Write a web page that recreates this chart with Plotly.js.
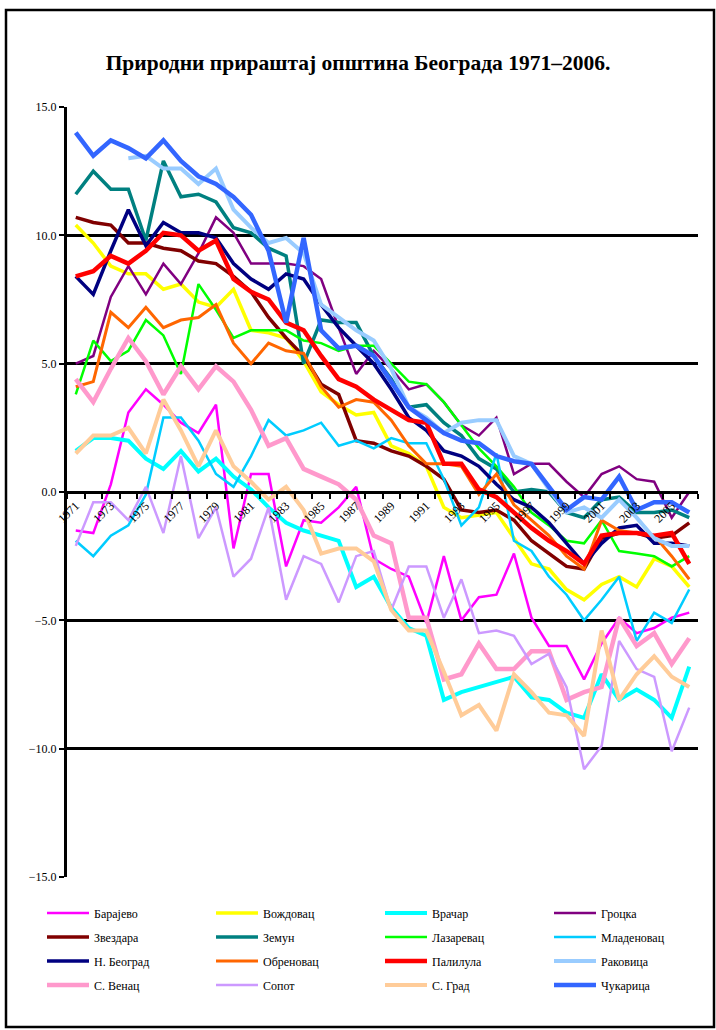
<!DOCTYPE html>
<html>
<head>
<meta charset="utf-8">
<script src="https://cdn.plot.ly/plotly-3.0.1.min.js"></script>
<style>
html,body{margin:0;padding:0;background:#fff;}
#chart{width:716px;height:1030px;}
</style>
</head>
<body>
<div id="chart"></div>
<script>
const years = [1971,1972,1973,1974,1975,1976,1977,1978,1979,1980,1981,1982,1983,1984,1985,1986,1987,1988,1989,1990,1991,1992,1993,1994,1995,1996,1997,1998,1999,2000,2001,2002,2003,2004,2005,2006];
const tickYears = [1971,1973,1975,1977,1979,1981,1983,1985,1987,1989,1991,1993,1995,1997,1999,2001,2003,2005];
const tickLabels = ["1971","1973","1975","1977","1979","1981","1983","1985","1987","1989","1991","1993","1995","1997","1999","2001","2003","2005"];

const barajevo   = [-1.5,-1.6,0.3,3.1,4.0,3.4,2.7,2.3,3.4,-2.2,0.7,0.7,-2.9,-1.1,-1.2,-0.6,0.2,-2.6,-3.0,-3.3,-5.1,-2.5,-5.0,-4.1,-4.0,-2.4,-4.9,-6.0,-6.0,-7.3,-5.9,-4.9,-5.5,-5.3,-4.9,-4.7];
const vozdovac   = [10.4,9.7,8.8,8.5,8.5,7.9,8.1,7.4,7.2,7.9,6.3,6.2,6.0,5.1,3.9,3.4,3.0,3.1,1.8,1.5,1.0,-0.6,-1.0,-0.9,-0.8,-1.8,-2.8,-3.0,-3.8,-4.2,-3.6,-3.3,-3.7,-2.6,-2.9,-3.7];
const vracar     = [1.6,2.1,2.1,2.0,1.3,0.9,1.6,0.8,1.3,0.6,0.1,-0.6,-1.2,-1.5,-1.7,-1.9,-3.7,-3.3,-4.5,-5.3,-5.6,-8.1,-7.8,-7.6,-7.4,-7.2,-8.0,-8.1,-8.6,-8.8,-7.1,-8.1,-7.7,-8.1,-8.8,-6.8];
const grocka     = [5.0,5.3,7.6,8.8,7.7,8.9,8.1,9.3,10.7,10.1,8.9,8.9,8.9,8.8,8.3,6.4,4.6,5.5,4.8,4.0,4.2,3.5,2.6,2.2,2.9,0.7,1.1,1.1,0.4,-0.2,0.7,1.0,0.5,0.4,-1.0,0.0];
const zvezdara   = [10.7,10.5,10.4,9.7,9.7,9.5,9.4,9.0,8.9,8.4,7.8,6.8,6.0,5.3,4.2,3.8,2.0,1.9,1.6,1.4,1.0,0.5,-0.7,-0.8,-0.7,-1.1,-1.9,-2.4,-2.9,-3.0,-1.8,-1.6,-1.6,-1.8,-1.7,-1.2];
const zemun      = [11.6,12.5,11.8,11.8,9.8,12.9,11.5,11.6,11.3,10.3,10.1,9.5,9.2,5.0,6.7,6.6,6.6,5.3,4.4,3.3,3.4,2.7,2.2,1.3,0.9,0.0,0.1,0.0,-0.8,-1.0,-0.3,-0.2,-0.8,-0.8,-0.7,-1.0];
const lazarevac  = [3.8,5.9,5.1,5.5,6.7,6.1,4.6,8.1,7.1,6.0,6.3,6.3,6.3,5.9,5.8,5.5,5.7,5.7,5.0,4.3,4.2,3.5,2.6,1.7,1.0,0.2,-0.8,-1.3,-1.9,-2.0,-1.1,-2.3,-2.4,-2.5,-2.9,-2.5];
const mladenovac = [-1.9,-2.5,-1.7,-1.3,-0.1,2.9,2.9,2.0,0.7,0.2,1.4,2.8,2.2,2.4,2.7,1.8,2.0,1.7,2.1,1.9,1.9,0.5,-1.3,-0.6,1.5,-1.9,-2.3,-3.3,-4.0,-5.0,-4.2,-3.3,-5.8,-4.7,-5.1,-3.8];
const nbeograd   = [8.4,7.7,9.4,11.0,9.6,10.5,10.1,10.1,9.9,8.9,8.3,7.9,8.5,8.3,7.3,6.4,5.7,5.0,4.0,2.9,2.4,1.6,1.4,1.0,0.3,-0.3,-0.6,-1.2,-2.0,-2.8,-2.0,-1.4,-1.3,-2.0,-2.0,-2.1];
const obrenovac  = [4.1,4.3,7.0,6.4,7.2,6.4,6.7,6.8,7.3,5.8,5.0,5.8,5.5,5.4,4.1,3.3,3.6,3.5,2.8,1.8,1.1,1.1,1.0,-0.1,0.7,-0.5,-1.1,-1.7,-2.5,-3.0,-1.1,-1.5,-1.6,-1.7,-2.5,-3.4];
const palilula   = [8.4,8.6,9.2,8.9,9.4,10.1,10.0,9.4,9.8,8.3,7.8,7.5,6.6,6.3,5.3,4.4,4.1,3.6,3.2,2.8,2.7,1.1,1.1,0.1,-0.2,-0.8,-1.4,-1.9,-2.3,-2.8,-1.7,-1.6,-1.6,-1.7,-1.6,-2.8];
const rakovica   = [null,null,null,13.0,13.1,12.6,12.6,12.0,12.6,11.0,10.3,9.7,9.9,9.3,7.3,6.8,6.3,5.9,4.8,3.3,2.9,2.3,2.7,2.8,2.8,1.4,1.1,0.1,-0.8,-0.6,-1.0,-0.3,-1.0,-1.8,-2.1,-2.1];
const svenac     = [4.4,3.5,4.8,6.0,5.1,3.8,4.9,4.0,4.9,4.3,3.2,1.8,2.1,0.9,0.6,0.3,-0.3,-1.7,-2.0,-4.9,-4.9,-7.3,-7.1,-5.9,-6.9,-6.9,-6.2,-6.2,-8.1,-7.8,-7.6,-4.9,-6.0,-5.5,-6.7,-5.7];
const sopot      = [-2.1,-0.4,-0.4,-1.1,0.2,-1.6,1.4,-1.8,-0.6,-3.3,-2.6,-0.6,-4.2,-2.5,-2.8,-4.3,-2.5,-2.3,-4.6,-2.9,-2.9,-4.9,-3.4,-5.5,-5.4,-5.6,-6.7,-6.3,-7.6,-10.8,-9.9,-5.8,-6.9,-7.2,-10.1,-8.4];
const sgrad      = [1.5,2.2,2.2,2.5,1.5,3.6,2.4,1.0,2.4,1.0,0.4,-0.3,0.2,-0.7,-2.4,-2.2,-2.2,-2.7,-4.6,-5.4,-5.4,-7.0,-8.7,-8.3,-9.3,-7.1,-7.8,-8.6,-8.7,-9.5,-5.4,-8.1,-7.1,-6.4,-7.2,-7.6];
const cukarica   = [14.0,13.1,13.7,13.4,13.0,13.7,12.9,12.3,12.0,11.5,10.8,9.4,6.6,9.9,6.3,5.6,5.7,5.3,4.3,3.3,2.8,2.3,2.0,1.9,1.4,1.2,1.1,0.2,-0.7,-0.2,-0.3,0.6,-0.7,-0.4,-0.4,-0.8];

const seriesNames = ["Барајево","Вождовац","Врачар","Гроцка","Звездара","Земун","Лазаревац","Младеновац","Н. Београд","Обреновац","Палилула","Раковица","С. Венац","Сопот","С. Град","Чукарица"];
const seriesData = [barajevo,vozdovac,vracar,grocka,zvezdara,zemun,lazarevac,mladenovac,nbeograd,obrenovac,palilula,rakovica,svenac,sopot,sgrad,cukarica];
const seriesColors = ["#FF00FF","#FFFF00","#00FFFF","#800080","#800000","#008080","#00FF00","#00CCFF","#000080","#FF6600","#FF0000","#99CCFF","#FF99CC","#CC99FF","#FFCC99","#3366FF"];
const seriesWidths = [2.5,3.5,4,2.5,3.5,3.5,2.5,2.5,3.5,3,4.5,4,4.5,2.5,4,4.5];
const legendId = i => i===0 ? 'legend' : 'legend'+(i+1);

const traces = seriesNames.map((n,i)=>({
  type:'scatter', mode:'lines', name:n, x:years, y:seriesData[i],
  line:{color:seriesColors[i], width:seriesWidths[i]},
  connectgaps:false, hoverinfo:'skip', legend:legendId(i)
}));

const W=716,H=1030, L=67, R=18, T=107, B=153;
const pw=W-L-R, ph=H-T-B;
const px = v => (v-L)/pw;
const py = v => (H-B-v)/ph;

const serif = 'Liberation Serif, Times New Roman, serif';
const colX = [42,211,380,549];
const rowY = [913,937,961,985];

const layout = {
  width:W, height:H,
  margin:{l:L,r:R,t:T,b:B,pad:0,autoexpand:false},
  paper_bgcolor:'#ffffff', plot_bgcolor:'#ffffff',
  title:{text:'<b>Природни прираштај општина Београда 1971–2006.</b>', font:{family:serif,size:21.5,color:'#000'},
         x:0.5, xref:'container', xanchor:'center', y:1-62/H, yref:'container', yanchor:'middle'},
  xaxis:{type:'linear', range:[1970.5,2006.5], anchor:'free', position:0.5, automargin:false,
         showline:true, linecolor:'#000', linewidth:3, showgrid:false, zeroline:false,
         tickmode:'array', tickvals:tickYears, ticktext:tickLabels, tickangle:-45, ticks:'',
         tickfont:{family:serif,size:12,color:'#000'},
         minor:{tick0:1970.5, dtick:1, ticks:'outside', ticklen:5, tickwidth:2, tickcolor:'#000', showgrid:false}},
  yaxis:{range:[-15,15], tick0:0, dtick:5, tickformat:'.1f', automargin:false, showline:true, linecolor:'#000', linewidth:3,
         ticks:'outside', ticklen:5, tickwidth:2, tickcolor:'#000',
         showgrid:true, gridcolor:'#000', gridwidth:2.5, zeroline:false,
         tickfont:{family:serif,size:12,color:'#000'}},
  showlegend:true,
  shapes:[{type:'rect', xref:'paper', yref:'paper', x0:px(6), x1:px(714), y0:py(1027), y1:py(10),
           line:{color:'#000', width:2.5}, fillcolor:'rgba(0,0,0,0)', layer:'below'}]
};
seriesNames.forEach((n,i)=>{
  layout[legendId(i)] = {orientation:'v', xref:'container', yref:'container',
    x:colX[i%4]/W, xanchor:'left', y:1-rowY[Math.floor(i/4)]/H, yanchor:'middle',
    itemwidth:42, font:{family:serif,size:12,color:'#000'}, bgcolor:'rgba(0,0,0,0)', borderwidth:0};
});
Plotly.newPlot('chart', traces, layout, {staticPlot:true, displayModeBar:false});
</script>
</body>
</html>
